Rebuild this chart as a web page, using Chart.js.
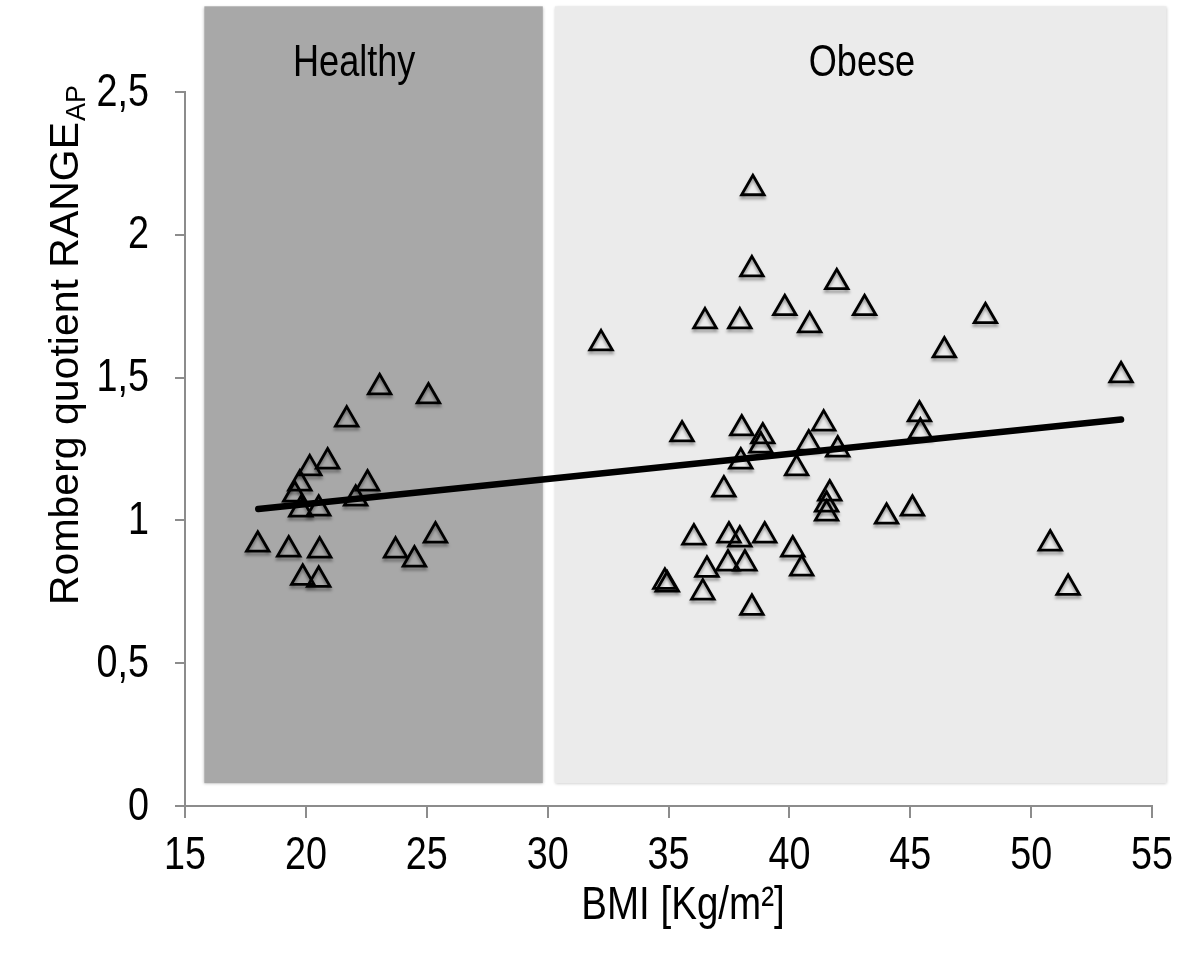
<!DOCTYPE html>
<html>
<head>
<meta charset="utf-8">
<script src="https://cdn.jsdelivr.net/npm/chart.js@4"></script>
<style>
  html, body { margin: 0; padding: 0; background: #fff; }
  #wrap { width: 1200px; height: 962px; }
</style>
</head>
<body>
<div id="wrap"><canvas id="chart" width="1200" height="962"></canvas></div>
<script>
// ---------- DATA ----------
const healthyBmi = [23.05, 25.07, 21.69, 20.90, 20.16, 19.75, 19.54, 19.79, 20.53, 22.55,
  22.06, 18.01, 19.29, 20.57, 19.87, 20.53, 23.71, 24.49, 25.36];
const healthyRq = [1.466, 1.434, 1.353, 1.206, 1.182, 1.129, 1.090, 1.038, 1.041, 1.129,
  1.076, 0.915, 0.898, 0.894, 0.799, 0.792, 0.894, 0.863, 0.947];

const obeseBmi = [38.49, 38.45, 41.96, 43.11, 39.81, 36.51, 37.95, 40.84, 32.21, 48.11,
  46.41, 53.72, 50.79, 51.53, 41.42, 40.80, 42.00, 40.30, 45.38, 45.42,
  41.67, 41.54, 41.54, 44.02, 45.09, 40.14, 40.51, 35.56, 38.03, 38.90,
  38.82, 37.99, 37.29, 36.05, 37.50, 37.95, 38.98, 36.59, 37.46, 38.16,
  34.85, 34.95, 36.42, 38.45];
const obeseRq = [2.163, 1.879, 1.834, 1.743, 1.743, 1.697, 1.697, 1.683, 1.620, 1.715,
  1.595, 1.508, 0.919, 0.764, 1.339, 1.269, 1.248, 1.182, 1.371, 1.311,
  1.094, 1.055, 1.024, 1.013, 1.041, 0.898, 0.831, 1.301, 1.322, 1.294,
  1.262, 1.206, 1.108, 0.940, 0.947, 0.933, 0.947, 0.827, 0.849, 0.849,
  0.785, 0.775, 0.747, 0.694];

const trendBmi = [18.03, 53.72];
const trendRq = [1.040, 1.353];

const xTicks = [15, 20, 25, 30, 35, 40, 45, 50, 55];
const yTicks = [0, 0.5, 1, 1.5, 2, 2.5];

// shaded groups
const groupNames = ["Healthy", "Obese"];
const groupFrom = [15.8, 30.3];
const groupTo = [29.8, 55.6];
const groupLabelAt = [22.0, 43.0];
const groupYFrom = 0.08;
const groupYTo = 2.8;
const groupColors = ["#a8a8a8", "#ebebeb"];

const xTitle = "BMI [Kg/m²]";
const xTitleAt = 35.6;
const yTitle = "Romberg quotient RANGE";
const yTitleSub = "AP";

const FONT = "'Liberation Sans', Arial, sans-serif";
const SQUEEZE = 0.82; // the original's text is horizontally compressed

const pts = (xs, ys) => xs.map((x, i) => ({ x, y: ys[i] }));
const comma = v => String(v).replace(".", ",");

function narrowText(ctx, text, x, y, size, align) {
  ctx.save();
  ctx.translate(x, y);
  ctx.scale(SQUEEZE, 1);
  ctx.font = size + "px " + FONT;
  ctx.textAlign = align;
  ctx.textBaseline = "middle";
  ctx.fillText(text, 0, 0);
  ctx.restore();
}

// ---------- PLUGINS ----------
const groupsPlugin = {
  id: "groups",
  beforeDatasetsDraw(chart) {
    const { ctx, scales: { x, y } } = chart;
    ctx.save();
    groupNames.forEach((name, i) => {
      const l = x.getPixelForValue(groupFrom[i]), r = x.getPixelForValue(groupTo[i]);
      const t = y.getPixelForValue(groupYTo), b = y.getPixelForValue(groupYFrom);
      ctx.shadowColor = "rgba(0,0,0,0.25)";
      ctx.shadowBlur = 3;
      ctx.shadowOffsetY = 1;
      ctx.fillStyle = groupColors[i];
      ctx.fillRect(l, t, r - l, b - t);
      ctx.shadowColor = "transparent";
      ctx.fillStyle = "#000";
      narrowText(ctx, name, x.getPixelForValue(groupLabelAt[i]), 64, 44, "center");
    });
    ctx.restore();
  }
};

const labelsPlugin = {
  id: "labels",
  afterDraw(chart) {
    const { ctx, scales: { x, y } } = chart;
    ctx.save();
    ctx.fillStyle = "#000";
    xTicks.forEach(v => narrowText(ctx, String(v), x.getPixelForValue(v), 856, 46, "center"));
    yTicks.forEach(v => narrowText(ctx, comma(v), 149, y.getPixelForValue(v) + 1, 46, "right"));
    narrowText(ctx, xTitle, x.getPixelForValue(xTitleAt), 906, 47, "center");

    // y title with subscript
    ctx.translate(67, 605);
    ctx.rotate(-Math.PI / 2);
    ctx.font = "41px " + FONT;
    ctx.textAlign = "left";
    ctx.textBaseline = "middle";
    ctx.fillText(yTitle, 0, 0);
    const w = ctx.measureText(yTitle).width;
    ctx.font = "27px " + FONT;
    ctx.fillText(yTitleSub, w + 1, 11);
    ctx.restore();
  }
};

const shadowPlugin = {
  id: "markShadow",
  beforeDatasetDraw(chart, args) {
    if (args.index > 1) return;
    const ctx = chart.ctx;
    ctx.save();
    ctx.shadowColor = "rgba(0,0,0,0.35)";
    ctx.shadowBlur = 3;
    ctx.shadowOffsetY = 3;
  },
  afterDatasetDraw(chart, args) {
    if (args.index > 1) return;
    chart.ctx.restore();
  }
};

// ---------- CHART ----------
const markStyle = {
  pointStyle: "triangle",
  pointRadius: 13,
  pointHoverRadius: 13,
  pointBorderWidth: 2.8,
  pointBorderColor: "#000",
  pointBackgroundColor: "rgba(0,0,0,0)",
  showLine: false
};

new Chart(document.getElementById("chart"), {
  type: "scatter",
  data: {
    datasets: [
      { label: "Healthy", data: pts(healthyBmi, healthyRq), ...markStyle },
      { label: "Obese", data: pts(obeseBmi, obeseRq), ...markStyle },
      {
        label: "Trend", data: pts(trendBmi, trendRq), showLine: true,
        borderColor: "#000", borderWidth: 6.5, borderCapStyle: "round",
        pointRadius: 0, pointHoverRadius: 0
      }
    ]
  },
  options: {
    responsive: false,
    animation: false,
    events: [],
    layout: { padding: { top: 92, right: 48, left: 0, bottom: 0 } },
    plugins: { legend: { display: false }, tooltip: { enabled: false } },
    scales: {
      x: {
        type: "linear", min: 15, max: 55,
        afterFit: s => { s.height = 156; },
        afterBuildTicks: s => { s.ticks = xTicks.map(v => ({ value: v })); },
        grid: { drawOnChartArea: false, drawTicks: true, tickLength: 12, color: "#8c8c8c", lineWidth: 2 },
        border: { display: true, color: "#8c8c8c", width: 2 },
        ticks: { display: false }
      },
      y: {
        type: "linear", min: 0, max: 2.5,
        afterFit: s => { s.width = 185; },
        afterBuildTicks: s => { s.ticks = yTicks.map(v => ({ value: v })); },
        grid: { drawOnChartArea: false, drawTicks: true, tickLength: 10, color: "#8c8c8c", lineWidth: 2 },
        border: { display: true, color: "#8c8c8c", width: 2 },
        ticks: { display: false }
      }
    }
  },
  plugins: [groupsPlugin, shadowPlugin, labelsPlugin]
});
</script>
</body>
</html>
